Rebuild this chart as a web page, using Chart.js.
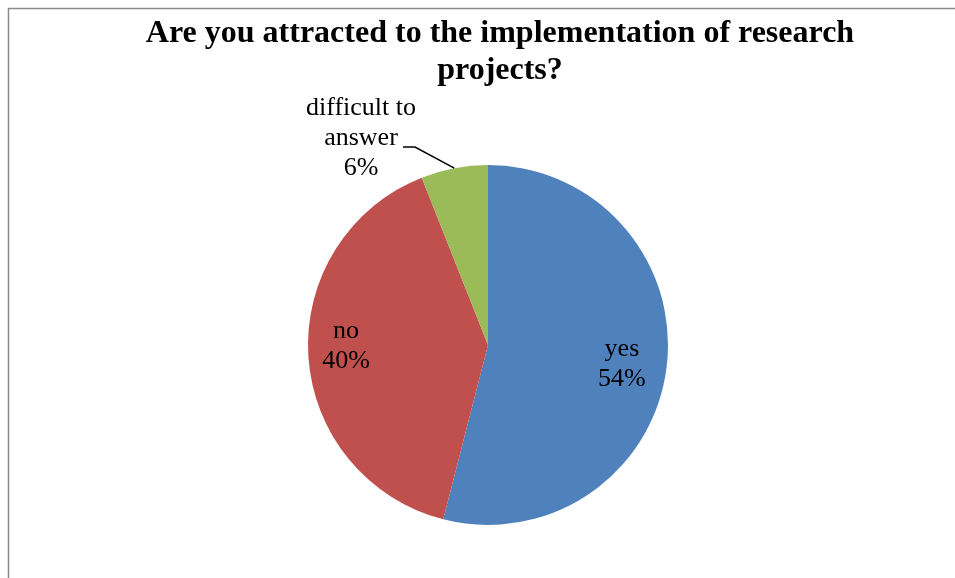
<!DOCTYPE html>
<html>
<head>
<meta charset="utf-8">
<script src="https://cdn.jsdelivr.net/npm/chart.js@4.4.1/dist/chart.umd.min.js"></script>
<style>
  html, body { margin: 0; padding: 0; background: #fff; }
  #wrap { width: 955px; height: 578px; }
</style>
</head>
<body>
<div id="wrap"><canvas id="pie" width="955" height="578"></canvas></div>
<script>
// answers to the survey question
const answers = ["yes", "no", "difficult to answer"];
const shares = [54, 40, 6];
const sliceColors = ["#4F81BD", "#C0504D", "#9BBB59"];
const labelLines = [["yes", "54%"], ["no", "40%"], ["difficult to", "answer", "6%"]];
const titleLines = ["Are you attracted to the implementation of research", "projects?"];

const serif = "'Liberation Serif', 'Times New Roman', serif";

// white background, grey frame and the two-line title
const framePlugin = {
  id: "frame",
  beforeDraw(chart) {
    const ctx = chart.ctx;
    ctx.save();
    ctx.fillStyle = "#fff";
    ctx.fillRect(0, 0, chart.width, chart.height);
    ctx.strokeStyle = "#8a8a8a";
    ctx.lineWidth = 1.5;
    ctx.strokeRect(8.5, 8.5, 1200, 900);
    ctx.fillStyle = "#000";
    ctx.font = "bold 32px " + serif;
    ctx.textAlign = "center";
    ctx.textBaseline = "alphabetic";
    titleLines.forEach((t, k) => ctx.fillText(t, 500, 42 + k * 37));
    ctx.restore();
  }
};

// data labels: inside for big slices, outside with a leader for the small one
const labelPlugin = {
  id: "sliceLabels",
  afterDatasetsDraw(chart) {
    const ctx = chart.ctx;
    const meta = chart.getDatasetMeta(0);
    ctx.save();
    ctx.font = "26px " + serif;
    ctx.fillStyle = "#000";
    ctx.textAlign = "center";
    ctx.textBaseline = "alphabetic";
    const lh = 30;
    const inside = [0.75, 0.79];
    const nudgeY = [0, -10];
    meta.data.forEach((arc, i) => {
      const mid = (arc.startAngle + arc.endAngle) / 2;
      const r = arc.outerRadius;
      let x, y;
      if (shares[i] > 10) {
        x = arc.x + Math.cos(mid) * r * inside[i];
        y = arc.y + Math.sin(mid) * r * inside[i] + nudgeY[i];
      } else {
        const ex = arc.x + Math.cos(mid) * r;
        const ey = arc.y + Math.sin(mid) * r;
        x = arc.x - 127;
        y = arc.y - 209;
        ctx.strokeStyle = "#000";
        ctx.lineWidth = 1.5;
        ctx.beginPath();
        ctx.moveTo(x + 42, y + 11);
        ctx.lineTo(x + 54, y + 11);
        ctx.lineTo(ex, ey);
        ctx.stroke();
      }
      const lines = labelLines[i];
      lines.forEach((t, k) => ctx.fillText(t, x, y + 9 + (k - (lines.length - 1) / 2) * lh));
    });
    ctx.restore();
  }
};

new Chart(document.getElementById("pie"), {
  type: "pie",
  data: {
    labels: answers,
    datasets: [{
      data: shares,
      backgroundColor: sliceColors,
      borderWidth: 0
    }]
  },
  options: {
    responsive: false,
    animation: false,
    layout: { padding: { top: 165, bottom: 53, left: 308, right: 287 } },
    plugins: {
      legend: { display: false },
      tooltip: { enabled: false },
      title: { display: false }
    }
  },
  plugins: [framePlugin, labelPlugin]
});
</script>
</body>
</html>
